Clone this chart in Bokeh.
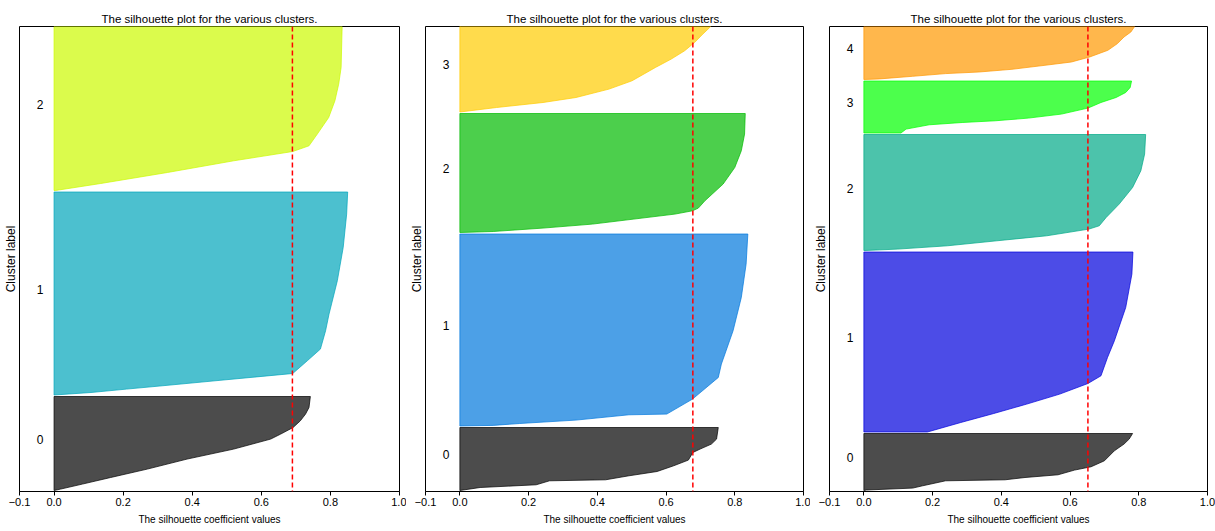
import numpy as np
from bokeh.plotting import figure
from bokeh.layouts import row
from bokeh.models import Span, FixedTicker, Range1d, ColumnDataSource
from bokeh.embed import file_html
from bokeh.resources import INLINE
from bokeh.core.properties import value

TITLE = "The silhouette plot for the various clusters."
XLABEL = "The silhouette coefficient values"
YLABEL = "Cluster label"
x_ticks = [-0.1, 0.0, 0.2, 0.4, 0.6, 0.8, 1.0]
x_tick_labels = ["\u22120.1", "0.0", "0.2", "0.4", "0.6", "0.8", "1.0"]
cluster_names = ["0", "1", "2", "3", "4"]

# ---- panel A: 3 clusters ----
a_sizes = [94, 203, 164]
a_avg = 0.69
a_colors = ["#000000", "#00a5bb", "#ccf900"]
a0_rank = [0, 1.4, 6.4, 13, 21.4, 31.4, 41.4, 51.4, 56.4, 63, 69.7, 76.4, 83, 94]
a0_sil = [0.0, 0.019, 0.082, 0.164, 0.270, 0.385, 0.520, 0.627, 0.656, 0.692, 0.713, 0.728, 0.738, 0.742]
a1_rank = [0, 2.5, 5.9, 9.2, 14.2, 21.5, 34.2, 45.9, 64.2, 80.9, 114.2, 147.5, 180.9, 203]
a1_sil = [0.0, 0.107, 0.21, 0.313, 0.466, 0.691, 0.733, 0.771, 0.786, 0.796, 0.820, 0.837, 0.847, 0.850]
a2_rank = [0, 7.0, 18, 29.7, 39, 44.7, 56.4, 73, 89.7, 106.4, 123, 164]
a2_sil = [0.004, 0.135, 0.328, 0.520, 0.691, 0.738, 0.762, 0.795, 0.813, 0.824, 0.831, 0.834]

# ---- panel B: 4 clusters ----
b_sizes = [63, 192, 119, 86]
b_avg = 0.678
b_colors = ["#000000", "#0077dd", "#00bb00", "#ffcc00"]
b0_rank = [0, 3.0, 5.7, 9.7, 10.7, 14.7, 19, 24.7, 30.4, 38, 41.4, 46.4, 51.4, 63]
b0_sil = [0.0, 0.059, 0.222, 0.261, 0.424, 0.492, 0.574, 0.622, 0.665, 0.678, 0.699, 0.732, 0.747, 0.752]
b1_rank = [0, 0.6, 2.5, 5.9, 11.2, 11.9, 26.9, 48.5, 61.9, 95.2, 128.5, 161.9, 192]
b1_sil = [0.0, 0.097, 0.174, 0.338, 0.492, 0.602, 0.677, 0.752, 0.761, 0.795, 0.819, 0.833, 0.838]
b2_rank = [0, 1.0, 4.4, 8.4, 14.4, 18.4, 21.7, 24.4, 31.7, 48.4, 65, 81.7, 98.4, 119]
b2_sil = [0.0, 0.097, 0.242, 0.386, 0.530, 0.626, 0.677, 0.694, 0.713, 0.766, 0.800, 0.819, 0.8285, 0.8305]
b3_rank = [0, 4.5, 9.5, 14.5, 22.9, 31.2, 44.5, 52.9, 61.2, 69.5, 77.9, 84.5, 86]
b3_sil = [0.0, 0.107, 0.242, 0.338, 0.434, 0.501, 0.569, 0.615, 0.654, 0.683, 0.707, 0.727, 0.73]

# ---- panel C: 5 clusters ----
c_sizes = [57, 180, 116, 52, 53]
c_avg = 0.652
c_colors = ["#000000", "#0000dd", "#00aa88", "#00ff00", "#ff9900"]
c0_rank = [0, 0.5, 2.4, 4.7, 9.7, 10.7, 13, 15.7, 20.4, 23.7, 29.7, 39.7, 46.4, 51.4, 57]
c0_sil = [0.0, 0.008, 0.142, 0.171, 0.238, 0.411, 0.469, 0.565, 0.613, 0.661, 0.700, 0.729, 0.757, 0.772, 0.782]
c1_rank = [0, 9.5, 18.5, 27.9, 37.9, 48.5, 56.2, 74.5, 91.2, 124.5, 157.9, 180]
c1_sil = [0.185, 0.282, 0.378, 0.474, 0.570, 0.652, 0.690, 0.709, 0.729, 0.762, 0.780, 0.783]
c2_rank = [0, 1.4, 4.7, 9.7, 14.7, 21.4, 24.7, 33, 46.4, 63, 79.7, 96.4, 116]
c2_sil = [0.003, 0.099, 0.243, 0.387, 0.532, 0.655, 0.685, 0.705, 0.743, 0.782, 0.806, 0.817, 0.820]
c3_rank = [0, 3.9, 8.2, 10.5, 12.2, 14.9, 18.9, 24.9, 26.2, 30.5, 35.5, 40.5, 45.5, 52]
c3_sil = [0.108, 0.123, 0.190, 0.286, 0.382, 0.479, 0.575, 0.652, 0.661, 0.690, 0.734, 0.762, 0.775, 0.779]
c4_rank = [0, 0.6, 3.2, 5.9, 7.5, 10.2, 14.2, 17.5, 22.5, 29.2, 35.9, 42.5, 47.5, 53]
c4_sil = [0.0, 0.046, 0.142, 0.238, 0.335, 0.431, 0.527, 0.604, 0.657, 0.710, 0.738, 0.757, 0.777, 0.788]

FONT = "Liberation Sans"
Y_MAX = 465
GAP = 1.5
START = 1
LABEL_LIFT = 4.5


def make_panel(sizes, ranks, sils, colors, avg, width, bl, br):
    p = figure(width=width, height=531, x_range=Range1d(-0.1, 1.0), y_range=Range1d(0, Y_MAX),
               output_backend="svg", toolbar_location=None, title=TITLE,
               min_border_left=bl, min_border_right=br, min_border_top=26, min_border_bottom=40)
    p.title.align = "center"
    p.title.text_font = FONT
    p.title.text_font_size = "11.5px"
    p.title.text_font_style = "normal"
    p.title.text_color = "#000000"
    p.title.standoff = 4
    p.xgrid.visible = False
    p.ygrid.visible = False
    p.outline_line_color = "#000000"
    p.outline_line_alpha = 1.0
    p.outline_line_width = 1
    p.background_fill_color = "#ffffff"
    p.border_fill_color = "#ffffff"

    ax = p.xaxis[0]
    ax.ticker = FixedTicker(ticks=x_ticks)
    ax.major_label_overrides = {t: s for t, s in zip(x_ticks, x_tick_labels)}
    ax.minor_tick_line_color = None
    ax.major_tick_in = 0
    ax.major_tick_out = 4
    ax.major_tick_line_color = "#000000"
    ax.axis_line_color = "#000000"
    ax.major_label_text_font = FONT
    ax.major_label_text_font_size = "11px"
    ax.major_label_text_color = "#000000"
    ax.major_label_standoff = 2
    ax.axis_label = XLABEL
    ax.axis_label_text_font = FONT
    ax.axis_label_text_font_size = "10px"
    ax.axis_label_text_font_style = "normal"
    ax.axis_label_text_color = "#000000"
    ax.axis_label_standoff = 5

    ay = p.yaxis[0]
    ay.ticker = FixedTicker(ticks=[])
    ay.minor_tick_line_color = None
    ay.major_tick_line_color = None
    ay.major_tick_out = 0
    ay.major_tick_in = 0
    ay.major_label_standoff = 0
    ay.axis_line_color = None
    ay.axis_label = YLABEL
    ay.axis_label_text_font = FONT
    ay.axis_label_text_font_size = "12px"
    ay.axis_label_text_font_style = "normal"
    ay.axis_label_text_color = "#000000"
    ay.axis_label_standoff = 2

    y_lower = START
    lab_x, lab_y, lab_t = [], [], []
    for i, (size, rk, sv, col) in enumerate(zip(sizes, ranks, sils, colors)):
        ys = y_lower + np.array(rk, dtype=float)
        sil = np.array(sv, dtype=float)
        px = np.concatenate([[0.0], sil, [0.0]])
        py = np.concatenate([[ys[0]], ys, [ys[-1]]])
        src = ColumnDataSource(dict(x=px, y=py))
        p.patch(x="x", y="y", source=src, fill_color=col, fill_alpha=0.7,
                line_color=col, line_alpha=0.7, line_width=1)
        lab_x.append(-0.05)
        lab_y.append(y_lower + 0.5 * size + LABEL_LIFT)
        lab_t.append(cluster_names[i])
        y_lower = y_lower + size + GAP

    p.text(x=lab_x, y=lab_y, text=lab_t, text_font=value(FONT), text_font_size="12px",
           text_align="left", text_baseline="middle", text_color="black")

    p.add_layout(Span(location=avg, dimension="height", line_color="red",
                      line_dash="5 3", line_width=1.5))
    return p


pa = make_panel(a_sizes, [a0_rank, a1_rank, a2_rank], [a0_sil, a1_sil, a2_sil],
                a_colors, a_avg, 406, 18, 7)
pb = make_panel(b_sizes, [b0_rank, b1_rank, b2_rank, b3_rank], [b0_sil, b1_sil, b2_sil, b3_sil],
                b_colors, b_avg, 404, 16, 7)
pc = make_panel(c_sizes, [c0_rank, c1_rank, c2_rank, c3_rank, c4_rank],
                [c0_sil, c1_sil, c2_sil, c3_sil, c4_sil], c_colors, c_avg, 405, 16, 8)

layout = row(pa, pb, pc)
open("out.html", "w").write(file_html(layout, INLINE))
